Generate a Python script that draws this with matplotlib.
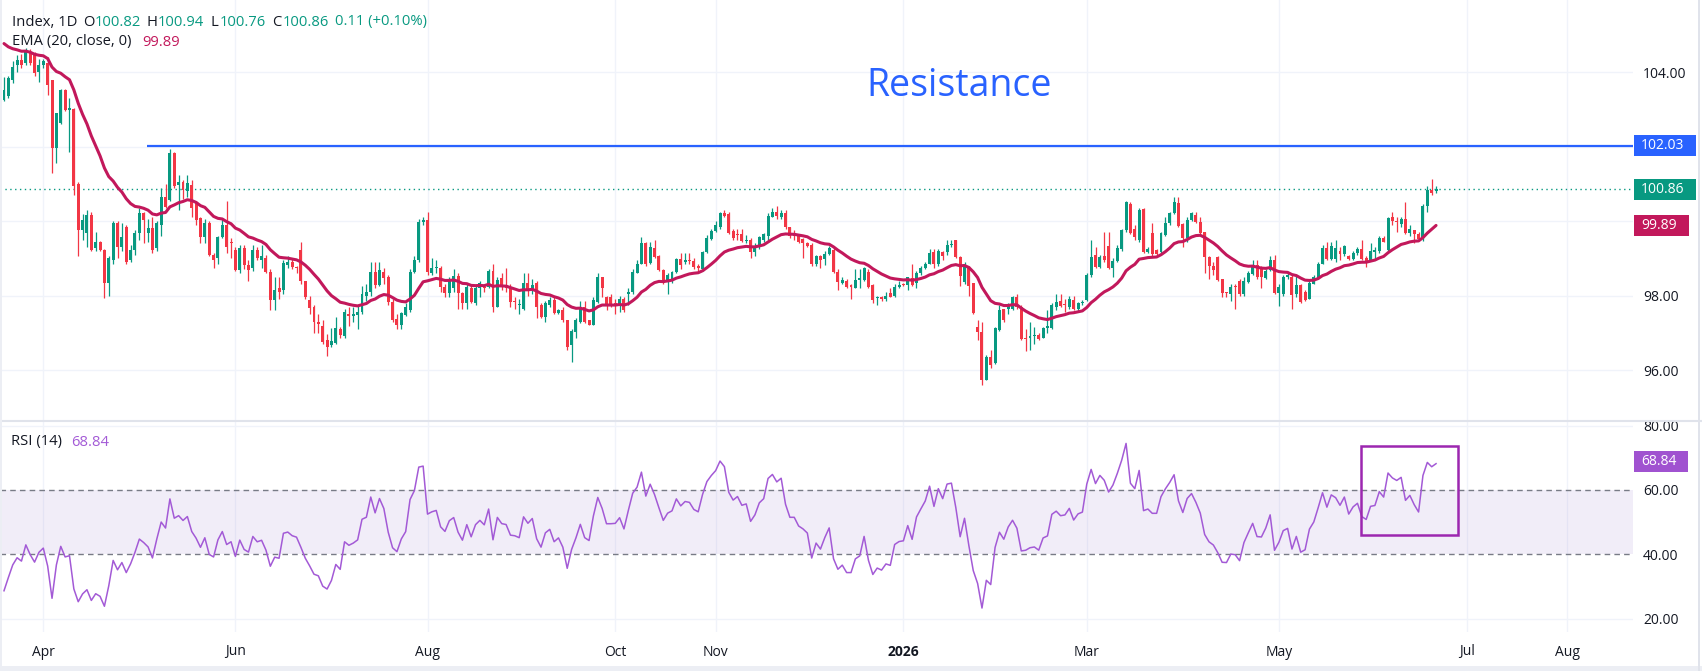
import numpy as np
import pandas as pd
import matplotlib
matplotlib.use("Agg")
import matplotlib.pyplot as plt
from matplotlib.patches import Rectangle
from matplotlib.lines import Line2D
from matplotlib.transforms import blended_transform_factory

plt.rcParams['font.family'] = ['Open Sans', 'DejaVu Sans']

# ---------------- data ----------------
start_date = "2025-03-19"   # first daily bar (business days)

opens = [
    103.26,103.35,103.80,104.20,104.33,104.24,104.55,104.50,104.00,104.20,
    104.24,103.80,101.96,102.63,103.52,102.98,103.00,101.00,99.76,99.67,
    100.17,99.27,99.45,99.23,98.33,98.96,99.94,99.30,99.85,98.96,
    99.23,99.67,100.21,99.67,99.81,99.27,99.90,100.66,100.57,101.82,
    100.97,101.06,100.80,100.97,100.48,100.08,99.58,99.94,99.10,99.00,
    99.58,99.90,99.45,99.23,98.69,99.27,98.82,98.73,99.23,98.96,
    99.00,98.64,97.88,98.20,98.15,98.82,98.91,98.78,99.23,98.38,
    97.88,97.70,97.30,97.18,96.80,96.66,96.73,97.10,96.91,97.50,
    97.45,97.47,97.56,98.00,98.10,98.64,98.28,98.64,98.50,97.84,
    97.37,97.22,97.47,97.61,98.64,98.96,99.98,100.03,98.60,98.73,
    98.73,98.24,98.06,98.20,98.52,98.06,97.79,98.20,97.79,98.20,
    98.24,98.24,98.67,97.70,98.46,98.28,98.24,97.86,97.74,97.65,
    98.33,98.15,98.33,97.74,97.43,97.74,97.88,97.52,97.61,97.34,
    96.67,97.03,97.30,97.70,97.34,97.21,97.83,98.49,97.97,97.95,
    97.80,97.74,97.90,98.03,98.10,98.60,98.85,99.42,98.87,99.27,
    99.06,98.69,98.37,98.42,98.62,98.99,98.90,98.95,98.93,98.80,
    98.70,99.17,99.53,99.74,99.85,100.23,100.19,99.74,99.66,99.65,
    99.47,99.50,99.18,99.31,99.50,99.59,100.12,100.25,100.12,100.23,
    99.83,99.68,99.60,99.52,99.40,99.35,98.85,99.07,98.98,99.12,
    99.22,98.64,98.35,98.40,98.28,98.21,98.42,98.42,98.64,98.28,
    97.93,97.95,97.90,98.08,97.99,98.22,98.31,98.28,98.46,98.33,
    98.60,98.73,98.86,99.17,98.86,99.18,99.18,99.36,99.49,99.04,
    98.37,98.77,98.33,97.16,97.03,95.73,96.35,96.18,97.07,97.63,
    97.63,97.63,97.97,97.70,96.86,96.85,96.91,96.94,96.85,97.12,
    97.12,97.68,97.85,97.75,97.68,97.88,97.65,97.79,97.88,98.55,
    99.09,98.77,99.06,99.33,98.75,98.93,99.24,99.76,100.45,99.80,
    99.49,100.32,99.18,99.67,99.22,99.18,99.63,99.94,100.21,100.48,
    99.92,99.54,100.03,100.16,99.98,99.71,99.04,98.79,99.04,98.44,
    98.08,98.04,98.26,98.40,98.04,98.37,98.58,98.82,98.73,98.46,
    98.68,98.95,98.06,98.03,98.50,98.50,98.03,98.28,98.10,97.92,
    98.31,98.46,98.86,99.29,98.97,98.97,99.20,99.11,99.06,98.97,
    99.15,99.24,99.02,98.95,99.18,99.20,99.54,99.22,100.12,100.00,
    99.92,100.05,99.69,99.75,99.65,99.51,100.40,100.83,100.82,
]
highs = [
    103.88,103.90,104.30,104.45,104.50,104.65,104.62,104.55,104.35,104.35,
    104.40,103.80,102.90,103.55,103.55,103.30,103.05,101.05,100.20,100.30,
    100.25,99.70,99.47,99.25,99.05,100.00,100.00,99.95,99.90,99.35,
    99.75,100.35,100.25,100.05,100.10,100.00,100.90,101.00,101.95,101.85,
    101.25,101.10,101.25,101.10,100.55,100.10,100.05,100.00,99.15,99.60,
    100.05,100.55,99.55,99.30,99.35,99.35,98.95,99.35,99.30,99.35,
    99.10,98.70,98.50,98.50,98.95,99.05,99.00,98.80,99.45,98.40,
    98.00,97.75,97.50,97.34,96.97,97.13,97.43,97.16,97.65,97.68,
    97.70,97.75,98.25,98.30,98.90,98.90,98.90,98.75,98.55,97.90,
    97.50,97.55,97.80,98.70,99.05,100.05,100.10,100.25,99.00,98.95,
    98.80,98.30,98.50,98.70,98.60,98.10,98.30,98.30,98.25,98.40,
    98.30,98.72,98.85,98.50,98.60,98.73,98.30,97.95,97.90,98.60,
    98.60,98.45,98.40,97.80,97.85,97.95,98.00,97.65,97.70,97.35,
    97.10,97.40,97.85,97.85,97.35,97.95,98.60,98.50,98.00,98.05,
    97.90,98.00,97.95,98.20,98.70,98.95,99.58,99.45,99.45,99.50,
    99.10,98.72,98.60,98.65,99.00,99.15,99.15,99.15,99.00,98.85,
    99.20,99.62,99.78,100.00,100.25,100.30,100.25,99.80,99.80,99.80,
    99.62,99.55,99.40,99.60,99.68,100.23,100.36,100.40,100.30,100.30,
    99.85,99.75,99.65,99.55,99.45,99.40,99.10,99.10,99.20,99.32,
    99.30,98.70,98.50,98.45,98.30,98.70,98.70,98.78,98.70,98.30,
    98.00,98.00,98.10,98.20,98.30,98.40,98.33,98.50,98.85,98.65,
    98.80,98.90,99.25,99.25,99.25,99.20,99.50,99.50,99.50,99.05,
    98.90,98.80,98.35,97.35,97.30,96.40,96.55,97.15,97.75,97.65,
    97.80,98.00,98.05,97.75,97.10,97.30,97.15,97.00,97.15,97.60,
    97.80,98.05,98.05,97.90,98.00,98.00,97.82,97.88,98.60,99.50,
    99.30,99.10,99.70,99.70,99.00,99.35,99.78,100.55,100.50,99.90,
    100.35,100.35,99.30,99.95,99.25,99.72,100.10,100.25,100.65,100.65,
    99.95,100.10,100.25,100.25,100.10,99.72,99.05,98.90,99.05,98.45,
    98.10,98.30,98.30,98.45,98.50,98.65,98.95,98.95,98.80,98.70,
    99.05,99.10,98.30,98.55,98.60,98.55,98.55,98.30,98.15,98.40,
    98.55,98.90,99.35,99.45,99.45,99.48,99.30,99.35,99.10,99.20,
    99.30,99.50,99.05,99.40,99.30,99.60,99.60,100.12,100.25,100.10,
    100.10,100.50,99.90,99.75,99.70,100.45,100.95,101.13,100.94,
]
lows = [
    103.24,103.30,103.70,104.00,104.10,104.20,104.20,103.90,103.75,104.10,
    103.40,101.30,101.56,102.60,102.95,101.87,100.70,99.05,99.50,99.30,
    99.20,99.20,99.20,97.93,98.00,98.85,99.00,99.20,98.85,98.90,
    99.10,99.50,99.40,99.45,99.15,99.20,99.60,100.35,100.55,100.90,
    100.30,100.60,100.65,100.10,99.90,99.40,99.40,99.05,98.75,98.85,
    99.55,99.15,99.00,98.65,98.60,98.70,98.40,98.65,98.95,98.75,
    98.60,97.60,97.60,97.90,98.05,98.75,98.70,98.60,98.30,97.90,
    97.50,97.00,97.00,96.70,96.38,96.62,96.70,96.85,96.85,97.19,
    97.30,97.10,97.50,97.85,98.00,98.20,98.25,98.30,97.75,97.30,
    97.10,97.10,97.45,97.55,98.60,98.90,99.90,98.55,98.55,98.60,
    98.10,97.95,97.95,98.10,97.65,97.65,97.65,97.80,97.75,97.95,
    98.10,98.20,97.55,97.70,98.15,98.10,97.70,97.65,97.50,97.60,
    98.00,98.05,97.40,97.40,97.28,97.70,97.50,97.50,97.30,96.55,
    96.22,96.85,97.25,97.25,97.20,97.20,97.80,97.95,97.60,97.70,
    97.50,97.55,97.55,97.75,98.05,98.60,98.85,98.80,98.85,99.00,
    98.65,98.30,98.05,98.35,98.60,98.70,98.85,98.85,98.70,98.65,
    98.65,99.15,99.50,99.70,99.80,100.10,99.65,99.50,99.50,99.45,
    99.40,99.00,99.05,99.25,99.45,99.50,100.10,100.05,100.05,99.80,
    99.55,99.50,99.40,99.00,99.30,98.80,98.80,98.75,98.82,99.10,
    98.60,98.15,98.30,98.20,97.90,98.20,98.20,98.40,98.20,97.80,
    97.75,97.85,97.85,97.95,97.95,98.20,98.27,98.15,98.25,98.20,
    98.55,98.70,98.85,98.75,98.80,98.95,99.10,99.30,99.00,98.25,
    98.30,98.00,97.50,96.80,95.60,95.73,96.05,96.15,97.05,97.30,
    97.50,97.60,97.65,96.80,96.50,96.55,96.70,96.80,96.85,97.00,
    97.10,97.60,97.70,97.55,97.65,97.60,97.55,97.75,97.85,98.50,
    98.75,98.75,98.90,98.70,98.50,98.90,99.20,99.70,99.65,99.50,
    99.45,99.15,99.15,99.05,99.05,99.10,99.60,99.90,100.20,99.85,
    99.30,99.45,100.00,99.95,99.65,98.60,98.45,98.55,98.40,97.95,
    97.95,97.85,97.65,98.00,98.00,98.35,98.55,98.45,98.20,98.45,
    98.65,98.05,97.72,98.00,98.45,97.65,97.95,97.80,97.85,97.90,
    98.30,98.45,98.85,98.95,98.95,98.90,98.95,99.05,98.95,98.95,
    99.10,98.95,98.78,98.93,98.95,99.15,99.45,99.20,99.90,99.70,
    99.85,99.66,99.60,99.40,99.50,99.47,100.25,100.70,100.76,
]
closes = [
    103.53,103.84,104.15,104.33,104.20,104.60,104.25,103.97,104.20,104.30,
    103.66,101.96,102.90,103.52,102.99,103.03,100.93,99.76,100.03,100.17,
    99.23,99.45,99.23,98.33,99.00,99.94,99.30,99.58,98.90,99.23,
    99.67,100.21,100.03,99.81,99.23,99.94,100.66,100.39,101.82,100.93,
    101.06,100.84,101.02,100.35,100.03,99.58,99.94,99.10,98.96,99.58,
    99.90,99.30,99.40,98.69,99.27,98.82,98.69,99.23,99.00,99.05,
    98.64,97.88,98.15,98.10,98.87,98.91,98.78,98.73,98.38,97.97,
    97.66,97.30,97.23,96.76,96.62,96.79,97.12,96.94,97.56,97.45,
    97.50,97.57,98.05,98.10,98.64,98.28,98.69,98.46,97.84,97.35,
    97.22,97.52,97.70,98.64,98.96,99.98,100.03,98.64,98.73,98.78,
    98.24,98.08,98.42,98.52,98.06,97.79,98.24,97.84,98.20,98.33,
    98.20,98.67,97.70,98.43,98.22,98.19,97.84,97.82,97.76,98.33,
    98.15,98.28,97.70,97.43,97.79,97.88,97.52,97.61,97.34,96.62,
    97.05,97.34,97.70,97.30,97.21,97.88,98.49,98.19,97.74,97.74,
    97.75,97.90,97.61,98.10,98.64,98.85,99.42,98.85,99.30,99.04,
    98.69,98.33,98.55,98.62,98.99,98.82,98.95,98.93,98.78,98.73,
    99.17,99.55,99.74,99.90,100.23,100.14,99.69,99.54,99.63,99.47,
    99.50,99.18,99.31,99.56,99.65,100.14,100.25,100.14,100.23,99.83,
    99.60,99.60,99.45,99.40,99.33,98.85,99.07,98.95,99.12,99.27,
    98.64,98.37,98.43,98.24,98.24,98.42,98.46,98.73,98.24,97.88,
    97.97,97.92,98.00,97.97,98.24,98.28,98.29,98.49,98.28,98.60,
    98.73,98.86,99.13,98.86,99.20,99.06,99.36,99.38,99.04,98.52,
    98.86,98.26,97.52,97.03,95.73,96.35,96.13,97.12,97.61,97.34,
    97.74,97.97,97.70,96.82,96.84,96.91,96.93,96.82,97.12,97.17,
    97.74,97.83,97.72,97.74,97.90,97.65,97.79,97.83,98.55,99.04,
    98.77,99.04,98.95,98.73,98.93,99.29,99.76,100.52,99.69,99.56,
    100.30,99.18,99.24,99.11,99.11,99.67,99.96,100.21,100.52,99.87,
    99.54,100.03,100.21,99.98,99.69,99.04,98.79,98.68,98.42,98.07,
    98.06,98.24,98.22,98.04,98.40,98.61,98.82,98.50,98.49,98.67,
    98.95,98.07,98.24,98.50,98.55,98.01,98.28,97.83,97.88,98.33,
    98.50,98.86,99.29,98.97,99.33,99.27,99.11,99.33,98.97,99.15,
    99.24,98.97,98.91,99.20,99.22,99.54,99.45,100.09,100.01,99.97,
    100.05,99.69,99.80,99.65,99.53,100.40,100.83,100.76,100.86,
]

ema_seed = 104.9          # EMA(20) value just before the first bar
rsi_seed_gain = 0.10      # Wilder averages just before the first bar
rsi_seed_loss = 0.30

resistance_level = 102.03
resistance_label = "102.03"
last_price_label = "100.86"
ema_last_label = "99.89"
rsi_last_value = 68.84
rsi_last_label = "68.84"

month_keys = ["2025-04", "2025-06", "2025-08", "2025-10", "2025-11",
              "2026-01", "2026-03", "2026-05", "2026-07", "2026-08"]
month_labels = ["Apr", "Jun", "Aug", "Oct", "Nov", "2026", "Mar", "May", "Jul", "Aug"]

price_ticks = [96, 98, 100, 102, 104]
price_tick_labels = ["96.00", "98.00", "", "", "104.00"]
rsi_ticks = [20, 40, 60, 80]
rsi_tick_labels = ["20.00", "40.00", "60.00", "80.00"]

# ---------------- derived ----------------
n = len(closes)
assert len(opens) == len(highs) == len(lows) == n
O = np.array(opens); H = np.array(highs); L = np.array(lows); C = np.array(closes)
x = np.arange(n)

alpha = 2.0 / 21.0
ema = []
e = ema_seed
for c in closes:
    e = e + alpha * (c - e)
    ema.append(e)

rsi = []
ag, al = rsi_seed_gain, rsi_seed_loss
prev = opens[0]
for c in closes:
    d = c - prev
    ag = (ag * 13 + max(d, 0)) / 14
    al = (al * 13 + max(-d, 0)) / 14
    rsi.append(100 - 100 / (1 + ag / al))
    prev = c

dates = pd.bdate_range(start_date, periods=400)
ym = dates.strftime("%Y-%m")
month_pos = [int(np.argmax(ym == k)) for k in month_keys]

# ---------------- colours ----------------
GREEN = "#089981"
RED = "#f23645"
BLUE = "#2962ff"
EMA_C = "#c2185b"
RSI_C = "#a35ad6"
DARK = "#131722"
GRID = "#f0f3fa"

W, Hpx = 1702, 671
fig = plt.figure(figsize=(W / 100, Hpx / 100), dpi=100)
fig.patch.set_facecolor("white")

plot_right = 1633
main_bottom = 421
rsi_bottom = 632
px_per_bar = 4.366
x_left = -4 / px_per_bar
x_right = (plot_right - 4) / px_per_bar

ax1 = fig.add_axes([0, 1 - main_bottom / Hpx, plot_right / W, main_bottom / Hpx])
ax2 = fig.add_axes([0, 1 - rsi_bottom / Hpx, plot_right / W, (rsi_bottom - main_bottom) / Hpx])
ax2.set_zorder(1)
ax1.set_zorder(3)

for ax in (ax1, ax2):
    for s in ax.spines.values():
        s.set_visible(False)
    ax.set_xlim(x_left, x_right)
    for p in month_pos:
        ax.axvline(p, color=GRID, lw=1, zorder=0)

# ---- main pane ----
ax1.set_ylim(94.63, 105.94)
for t in price_ticks:
    ax1.axhline(t, color=GRID, lw=1, zorder=0)

up = C >= O
cols = np.where(up, GREEN, RED)
ax1.vlines(x, L, H, colors=cols, lw=0.9, zorder=2)
body_h = np.maximum(np.abs(C - O), 0.03)
ax1.bar(x, body_h, bottom=np.minimum(O, C), width=0.68, color=cols, linewidth=0, zorder=3)

ax1.plot(x, ema, color=EMA_C, lw=2.2, zorder=4, solid_capstyle='round')

res_start = 32.7
ax1.hlines(resistance_level, res_start, x_right, color=BLUE, lw=1.6, zorder=4)
ax1.axhline(C[-1], color=GREEN, lw=1.0, ls=(0, (1, 2.5)), zorder=1)

ax1.yaxis.tick_right()
ax1.set_yticks(price_ticks)
ax1.set_yticklabels(price_tick_labels)
ax1.tick_params(axis='y', length=0, pad=7.2, labelsize=10, labelcolor=DARK)
ax1.set_xticks([])

tr1 = blended_transform_factory(ax1.transAxes, ax1.transData)
def price_box(ax, tr, val, txt, color, wpx, hdata, axw_px):
    ax.add_patch(Rectangle((1.0 + 1 / axw_px, val - hdata / 2), wpx / axw_px, hdata,
                           transform=tr, facecolor=color, edgecolor='none',
                           clip_on=False, zorder=6))
    ax.text(1.0 + 8 / axw_px, val, txt, transform=tr, color="white", fontsize=10,
            va='center', ha='left', clip_on=False, zorder=7)

box_h = 21 / 37.2
price_box(ax1, tr1, resistance_level, resistance_label, BLUE, 62, box_h, plot_right)
price_box(ax1, tr1, C[-1], last_price_label, GREEN, 62, box_h, plot_right)
price_box(ax1, tr1, float(ema_last_label), ema_last_label, EMA_C, 55, box_h, plot_right)

# ---- RSI pane ----
ax2.set_ylim(15.9, 81.4)
ax2.axhspan(40, 60, color="#7e57c2", alpha=0.1, lw=0, zorder=0)
for t in (20, 80):
    ax2.axhline(t, color=GRID, lw=1, zorder=0)
for t in (40, 60):
    ax2.axhline(t, color="#787b86", lw=1.0, ls=(0, (4, 3)), zorder=1)
ax2.plot(x, rsi, color=RSI_C, lw=1.1, zorder=3)

rect_x0, rect_x1 = 310.8, 333.0
rect_y0, rect_y1 = 46.1, 73.6
ax2.add_patch(Rectangle((rect_x0, rect_y0), rect_x1 - rect_x0, rect_y1 - rect_y0,
                        fill=False, edgecolor="#9c27b0", lw=1.8, zorder=4))

ax2.yaxis.tick_right()
ax2.set_yticks(rsi_ticks)
ax2.set_yticklabels(rsi_tick_labels)
ax2.tick_params(axis='y', length=0, pad=7.2, labelsize=10, labelcolor=DARK)
ax2.set_xticks(month_pos)
ax2.set_xticklabels(month_labels)
ax2.tick_params(axis='x', length=0, pad=9, labelsize=10, labelcolor=DARK)
for lab in ax2.get_xticklabels():
    if lab.get_text() == "2026":
        lab.set_fontweight("bold")

tr2 = blended_transform_factory(ax2.transAxes, ax2.transData)
price_box(ax2, tr2, rsi_last_value, rsi_last_label, "#a052d0", 54, 21 / 3.222, plot_right)

# cover the top of the cut 80.00 label (it sits under the pane divider)
fig.add_artist(Rectangle((plot_right / W, 1 - main_bottom / Hpx), 1 - plot_right / W,
                         main_bottom / Hpx, transform=fig.transFigure,
                         facecolor="white", edgecolor='none', zorder=2))

# pane divider & frame
fig.add_artist(Line2D([0, 1], [1 - main_bottom / Hpx] * 2, transform=fig.transFigure,
                      color="#e0e3eb", lw=1.5, zorder=10))
fig.add_artist(Rectangle((0, 0), 1, 5 / Hpx, transform=fig.transFigure,
                         facecolor="#eceef4", edgecolor='none', zorder=10))
fig.add_artist(Rectangle((0, 0), 2 / W, 1, transform=fig.transFigure,
                         facecolor="#eceef4", edgecolor='none', zorder=10))
fig.add_artist(Rectangle((1698 / W, 0), 2 / W, 1, transform=fig.transFigure,
                         facecolor="#e0e3eb", edgecolor='none', zorder=10))

# ---- legends ----
def ftext(px, py, s, color, size=10.6, **kw):
    fig.text(px / W, 1 - py / Hpx, s, color=color, fontsize=size, va='center', ha='left',
             zorder=20, **kw)

ftext(12, 22, "Index, 1D", DARK)
ftext(83, 22, "O", DARK); ftext(95, 22, "100.82", GREEN)
ftext(147, 22, "H", DARK); ftext(158, 22, "100.94", GREEN)
ftext(211, 22, "L", DARK); ftext(220, 22, "100.76", GREEN)
ftext(272, 22, "C", DARK); ftext(283, 22, "100.86", GREEN)
ftext(335, 22, "0.11 (+0.10%)", GREEN)
ftext(12, 42, "EMA (20, close, 0)", DARK)
ftext(142, 42, ema_last_label, EMA_C)
ftext(11, 442, "RSI (14)", DARK)
ftext(71, 442, rsi_last_label, RSI_C)

ftext(866, 86, "Resistance", BLUE, size=27)

fig.savefig("out.png", dpi=100, facecolor="white")
